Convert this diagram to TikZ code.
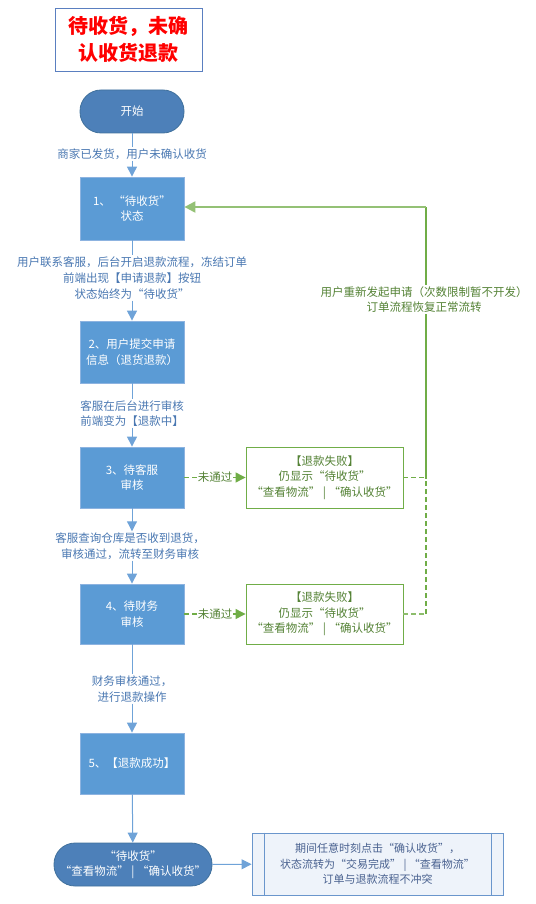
\documentclass[tikz,border=0pt]{standalone}
\usepackage{fontspec}
\setmainfont{Noto Sans CJK SC}
\usetikzlibrary{arrows.meta}
\definecolor{termf}{HTML}{4D80B9}
\definecolor{termb}{HTML}{41719C}
\definecolor{procf}{HTML}{5B9BD5}
\definecolor{procb}{HTML}{8DB3E0}
\definecolor{arrc}{HTML}{6FA3D8}
\definecolor{labc}{HTML}{4A78B2}
\definecolor{gr}{HTML}{70AD47}
\definecolor{grl}{HTML}{A9D18E}
\definecolor{grt}{HTML}{548235}
\definecolor{botf}{HTML}{EEF3FA}
\definecolor{botb}{HTML}{6A96CC}
\definecolor{bott}{HTML}{4A6290}
\definecolor{titb}{HTML}{5A7FC0}
\begin{document}
\begin{tikzpicture}[x=1pt,y=-1pt,
  lbl/.style={font=\fontsize{11.5}{16}\selectfont, text=labc, fill=white, align=center, inner sep=1pt},
  proc/.style={draw=procb, fill=procf, line width=0.8pt, minimum width=104pt, text=white, align=center, font=\fontsize{11.5}{15.5}\selectfont},
  term/.style={draw=termb, fill=termf, line width=0.8pt, rounded corners=21pt, minimum height=43pt, text=white, align=center, font=\fontsize{11.5}{15}\selectfont},
  fail/.style={draw=gr, fill=white, line width=0.9pt, minimum width=157pt, text=grt, align=center, font=\fontsize{11.5}{15.5}\selectfont},
  glbl/.style={font=\fontsize{11.5}{15}\selectfont, text=grt, fill=white, align=center, inner sep=1pt},
  barrow/.style={draw=arrc, line width=1pt, -{Triangle[width=10pt,length=10pt]}},
  garrow/.style={draw=gr, line width=1.2pt, dashed, dash pattern=on 5pt off 3pt, -{Triangle[width=10pt,length=10pt]}},
  gline/.style={draw=gr, line width=1.2pt},
  gdash/.style={draw=gr, line width=1.2pt, dash pattern=on 5pt off 3pt},
]
\useasboundingbox (0,0) rectangle (535,904);

% title
\node[draw=titb, line width=0.9pt, minimum width=147pt, minimum height=63pt, align=center,
      text=red, font=\fontsize{20}{27}\selectfont\bfseries] (title) at (128.5,39.5) {待收货，未确\\认收货退款};

% main column
\node[term, minimum width=104pt] (start) at (132,111.5) {开始};
\node[lbl] (l1) at (132,154) {商家已发货，用户未确认收货};
\node[proc, minimum height=63pt] (b1) at (132,208.5) {1、 “待收货”\\状态};
\node[lbl] (l2) at (132,278) {用户联系客服，后台开启退款流程，冻结订单\\前端出现【申请退款】按钮\\状态始终为“待收货”};
\node[proc, minimum height=62pt] (b2) at (132,352) {2、用户提交申请\\信息（退货退款）};
\node[lbl, font=\fontsize{11.5}{15.5}\selectfont] (l3) at (132,413.5) {客服在后台进行审核\\前端变为【退款中】};
\node[proc, minimum height=61pt] (b3) at (132,477.5) {3、待客服\\审核};
\node[lbl] (l4) at (130,546) {客服查询仓库是否收到退货，\\审核通过，流转至财务审核};
\node[proc, minimum height=60pt] (b4) at (132,614) {4、待财务\\审核};
\node[lbl] (l5) at (132,689) {财务审核通过，\\进行退款操作};
\node[proc, minimum height=61pt] (b5) at (132,763.5) {5、【退款成功】};
\node[term, minimum width=158pt] (end) at (133,864.5) {“待收货”\\“查看物流” | “确认收货”};

% bottom note box
\node[draw=botb, fill=botf, line width=0.9pt, minimum width=251pt, minimum height=62pt, align=center,
      text=bott, font=\fontsize{11}{15.5}\selectfont] (note) at (377.5,864)
      {期间任意时刻点击“确认收货”，\\状态流转为“交易完成” | “查看物流”\\订单与退款流程不冲突};
\draw[botb, line width=0.9pt] ([xshift=13pt]note.north west) -- ([xshift=13pt]note.south west);
\draw[botb, line width=0.9pt] ([xshift=-12pt]note.north east) -- ([xshift=-12pt]note.south east);

% failure boxes
\node[fail, minimum height=61pt] (f1) at (324.5,477.5) {【退款失败】\\仍显示“待收货”\\“查看物流” | “确认收货”};
\node[fail, minimum height=60pt] (f2) at (324.5,614) {【退款失败】\\仍显示“待收货”\\“查看物流” | “确认收货”};
\node[glbl] (n1) at (215,477.5) {未通过};
\node[glbl] (n2) at (215,614) {未通过};

% blue connectors
\draw[barrow] (start) -- (l1) -- (b1);
\draw[barrow] (b1) -- (l2) -- (b2);
\draw[barrow] (b2) -- (l3) -- (b3);
\draw[barrow] (b3.south) -- (l4.north -| b3.south);
\draw[barrow] (l4.south -| b3.south) -- (b4.north);
\draw[barrow] (b4) -- (l5) -- (b5);
\draw[barrow] (b5) -- (end);
\draw[barrow] (end) -- (note);

% green connectors
\draw[gdash] (b3) -- (n1);
\draw[garrow] (n1) -- (f1);
\draw[gdash] (b4) -- (n2);
\draw[garrow] (n2) -- (f2);

\coordinate (r1) at (426,477.5);
\coordinate (r2) at (426,614);
\coordinate (rt) at (426,207);
\draw[gdash] (f1) -- (r1);
\draw[gdash, line width=2pt, draw=gr!80] (f2) -- (r2);
\draw[gdash] (r2) -- (r1);
\draw[gline] (r1) -- (rt);
\draw[draw=gr!75, line width=2.2pt, -{Triangle[width=11pt,length=11pt]}] (rt) -- (b1.east |- rt);
\node[glbl, font=\fontsize{11.5}{15.5}\selectfont] (rl) at (424,299.5) {用户重新发起申请（次数限制暂不开发）\\订单流程恢复正常流转};
\end{tikzpicture}
\end{document}
